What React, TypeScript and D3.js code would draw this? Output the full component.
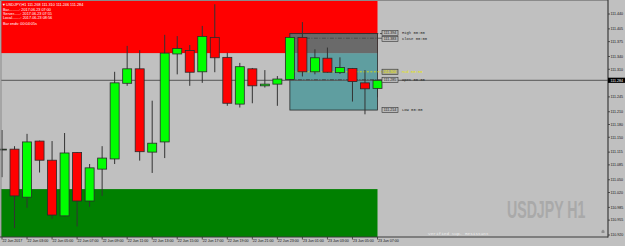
import React from 'react';
import * as d3 from 'd3';

// ---- data ----
const barTimes = [
  '22 01:00','22 02:00','22 03:00','22 04:00','22 05:00','22 06:00','22 07:00','22 08:00',
  '22 09:00','22 10:00','22 11:00','22 12:00','22 13:00','22 14:00','22 15:00','22 16:00',
  '22 17:00','22 18:00','22 19:00','22 20:00','22 21:00','22 22:00','22 23:00','23 00:00',
  '23 01:00','23 02:00','23 03:00','23 04:00','23 05:00','23 06:00','23 07:00'
];
const opens = [111.120,111.122,111.009,111.141,111.096,110.965,111.114,111.000,111.075,111.099,111.277,111.311,111.115,111.139,111.346,111.354,111.304,111.385,111.338,111.228,111.311,111.271,111.275,111.286,111.385,111.304,111.336,111.302,111.312,111.278,111.265];
const highs = [111.167,111.129,111.158,111.142,111.141,111.160,111.115,111.087,111.129,111.304,111.365,111.355,111.236,111.391,111.388,111.367,111.412,111.463,111.349,111.325,111.313,111.308,111.294,111.386,111.421,111.357,111.361,111.338,111.313,111.308,111.286];
const lows = [111.056,110.936,110.984,111.067,110.958,110.964,110.940,110.986,111.012,111.087,111.271,111.095,111.066,111.101,111.298,111.271,111.278,111.303,111.224,111.220,111.230,111.267,111.224,111.284,111.293,111.298,111.302,111.299,111.234,111.204,111.244];
const closes = [111.122,111.012,111.139,111.096,110.967,111.113,111.000,111.078,111.101,111.278,111.311,111.116,111.136,111.348,111.359,111.303,111.387,111.337,111.230,111.316,111.271,111.275,111.287,111.385,111.304,111.337,111.303,111.314,111.281,111.264,111.284];

const xLabels = ['22 Jun 2017','22 Jun 03:00','22 Jun 05:00','22 Jun 07:00','22 Jun 09:00','22 Jun 11:00','22 Jun 13:00','22 Jun 15:00','22 Jun 17:00','22 Jun 19:00','22 Jun 21:00','22 Jun 23:00','23 Jun 01:00','23 Jun 03:00','23 Jun 05:00','23 Jun 07:00'];
const yTicks = [111.440,111.405,111.375,111.340,111.310,111.245,111.210,111.180,111.150,111.115,111.085,111.050,111.020,110.985,110.955,110.920];

const currentPrice = 111.284;
const resistanceZone = [111.348, 111.480];
const supportZone = [110.900, 111.028];
const dayBox = [111.214, 111.394];
const dayBoxBars = [23, 30];
const levelNames = ['High 00:00', 'Close 00:00', 'Mid 00:00', 'Open 00:00', 'Low 00:00'];
const levelValues = [111.394, 111.383, 111.304, 111.285, 111.214];

const headerLines = [
  'USDJPY,H1  111.268 111.310 111.246 111.284',
  'Bar..........: 2017.06.23 07:00',
  'Server......: 2017.06.23 07:55',
  'Local........: 2017.06.23 08:56',
  'Bar ends: 00:04:05s',
];

// ---- layout ----
const W = 625, H = 246;
const plotL = 1, plotR = 608, plotT = 0.5, plotB = 237;

export default function App() {
  const x = d3.scaleLinear().domain([0, barTimes.length - 1]).range([2, 377.5]);
  const y = d3.scaleLinear().domain([110.920, 111.440]).range([235, 14]);
  const bw = 9;
  const font = 'Liberation Sans, Arial, sans-serif';
  const cy = (v: number) => Math.max(plotT, Math.min(plotB, y(v)));

  const boxX0 = x(dayBoxBars[0]);
  const boxX1 = x(dayBoxBars[1]);
  const boxTop = y(dayBox[1]);
  const boxBot = y(dayBox[0]);
  const redBot = y(resistanceZone[0]);

  const levelStyle = [
    { stroke: '#333', dash: '3,1.5' },
    { stroke: '#444', dash: '4,1.5,1,1.5' },
    { stroke: '#e6e600', dash: '2,1.5' },
    { stroke: '#222', dash: '4,1.5,1,1.5' },
    { stroke: 'none', dash: '' },
  ];

  return (
    <div style={{ position: 'absolute', left: 0, top: 0 }}>
      <svg width={W} height={H} style={{ display: 'block' }}>
        <rect x={0} y={0} width={W} height={H} fill="#c0c0c0" />
        {/* zones */}
        <rect x={plotL} y={cy(resistanceZone[1])} width={x(30) - plotL} height={cy(resistanceZone[0]) - cy(resistanceZone[1])} fill="#ff0000" />
        <rect x={plotL} y={cy(supportZone[1])} width={x(30) - plotL} height={cy(supportZone[0]) - cy(supportZone[1])} fill="#008000" />
        {/* day box */}
        <rect x={boxX0} y={redBot} width={boxX1 - boxX0} height={boxBot - redBot} fill="#5f9ea0" />
        <rect x={boxX0} y={boxTop} width={boxX1 - boxX0} height={redBot - boxTop} fill="#6a6a6a" />
        <rect x={boxX0} y={boxTop} width={boxX1 - boxX0} height={boxBot - boxTop} fill="none" stroke="#2a2a2a" strokeWidth={0.8} />
        {/* level lines */}
        {levelValues.map((v, i) => (
          levelStyle[i].stroke !== 'none' ? (
            <line key={'lv' + i} x1={boxX0} x2={382} y1={y(v)} y2={y(v)} stroke={levelStyle[i].stroke} strokeWidth={0.8} strokeDasharray={levelStyle[i].dash} />
          ) : null
        ))}
        {/* current price line */}
        <line x1={plotL} x2={plotR} y1={y(currentPrice)} y2={y(currentPrice)} stroke="#555" strokeWidth={1} />
        {/* candles */}
        {barTimes.map((t, i) => {
          const o = opens[i], c = closes[i], hgh = highs[i], l = lows[i];
          const up = c >= o;
          const top = y(Math.max(o, c));
          const bot = y(Math.min(o, c));
          return (
            <g key={t}>
              <line x1={x(i)} x2={x(i)} y1={cy(hgh)} y2={cy(l)} stroke="#333" strokeWidth={1} />
              <rect x={x(i) - bw / 2} y={top} width={bw} height={Math.max(0.8, bot - top)} fill={up ? '#00ff00' : '#ff0000'} stroke="#2a2a2a" strokeWidth={0.8} />
            </g>
          );
        })}
        {/* level labels */}
        {levelValues.map((v, i) => {
          const yy = y(v) + (i === 1 ? 0.8 : i === 0 ? -0.6 : 0);
          const col = i === 2 ? '#e6e600' : '#222';
          return (
            <g key={'ll' + i}>
              <rect x={382} y={yy - 2.6} width={16} height={5.2} fill={i === 2 ? '#a8a890' : '#b8b8b8'} stroke="#333" strokeWidth={0.6} />
              <text x={390} y={yy + 1.3} fontSize={3.6} fontFamily={font} fill={col} textAnchor="middle">{v.toFixed(3)}</text>
              <text x={402} y={yy + 1.3} fontSize={3.8} fontFamily="Liberation Mono, monospace" fill={col}>{levelNames[i]}</text>
            </g>
          );
        })}
        {/* frame / axes */}
        <line x1={plotL} x2={plotL} y1={0} y2={plotB} stroke="#8a8a8a" strokeWidth={1} />
        <line x1={0} x2={plotR} y1={0.5} y2={0.5} stroke="#8a8a8a" strokeWidth={1} />
        <line x1={plotR} x2={plotR} y1={0} y2={plotB + 0.5} stroke="#3a3a3a" strokeWidth={1.2} />
        <line x1={0} x2={plotR} y1={plotB} y2={plotB} stroke="#3a3a3a" strokeWidth={1.2} />
        {yTicks.map((v) => (
          <g key={'yt' + v}>
            <line x1={plotR} x2={plotR + 2} y1={y(v)} y2={y(v)} stroke="#333" strokeWidth={0.8} />
            <text x={610.5} y={y(v) + 1.3} fontSize={3.6} fontFamily={font} fill="#111">{v.toFixed(3)}</text>
          </g>
        ))}
        <rect x={plotR} y={y(currentPrice) - 2.6} width={W - plotR} height={5.2} fill="#000" />
        <text x={610.5} y={y(currentPrice) + 1.3} fontSize={3.6} fontFamily={font} fill="#fff">{currentPrice.toFixed(3)}</text>
        {xLabels.map((lab, k) => (
          <g key={'xl' + k}>
            <line x1={x(k * 2)} x2={x(k * 2)} y1={plotB} y2={plotB + 2.5} stroke="#333" strokeWidth={0.8} />
            <text x={x(k * 2) + 0.5} y={241.8} fontSize={3.6} fontFamily={font} fill="#111">{lab}</text>
          </g>
        ))}
        {/* watermark */}
        <g transform="translate(507,218) scale(0.59,1)">
          <text x={0} y={0} fontSize={24} fontWeight="bold" fontFamily={font} fill="#a9a9a9">USDJPY H1</text>
        </g>
        <text x={428} y={235} fontSize={4.4} fontFamily="Liberation Mono, monospace" fill="#ececec">Verified Sup. Resistant</text>
        <path d="M601.5,233 L604.5,233 L604.5,231 L603,229.5 L601.5,231 Z" fill="#8c8c8c" />
        {/* header */}
        <text x={2} y={5.5} fontSize={3.8} fontFamily={font} fill="#fff">▼</text>
        {headerLines.map((s, i) => (
          <text key={'h' + i} x={i === 0 ? 6 : 3} y={[5.5, 11.2, 15.2, 19.4, 25.3][i]} fontSize={3.8} fontFamily={font} fill="#fff">{s}</text>
        ))}
      </svg>
    </div>
  );
}
